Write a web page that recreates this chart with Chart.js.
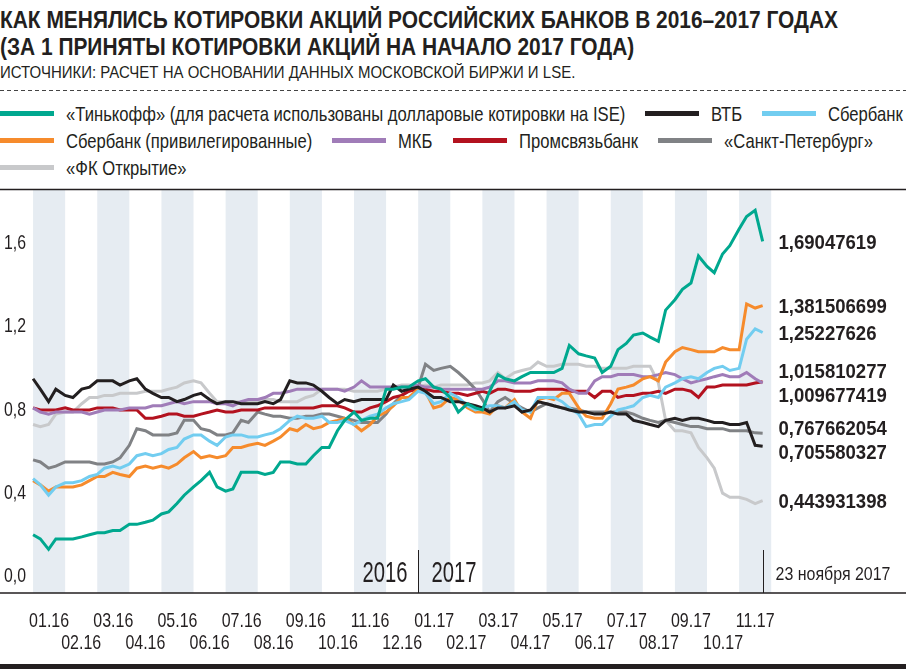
<!DOCTYPE html>
<html lang="ru">
<head>
<meta charset="utf-8">
<title>Котировки акций российских банков 2016–2017</title>
<script src="https://cdn.jsdelivr.net/npm/chart.js@4/dist/chart.umd.min.js"></script>
<style>
  body { margin: 0; background: #fff; }
  #page {
    position: relative; width: 906px; height: 669px; overflow: hidden;
    font-family: 'Liberation Sans', Arial, sans-serif;
    color: #231f20;
  }
  .t { display: inline-block; white-space: nowrap; transform-origin: 0 50%; }
  #title { position: absolute; left: 0; top: 6px; font-size: 24px; line-height: 27px; font-weight: bold; }
  #title div { height: 27px; }
  #sub { position: absolute; left: 0; top: 63px; font-size: 17px; line-height: 20px; }
  .dash {
    position: absolute; left: 0; top: 90px; width: 906px; height: 1px;
    background: repeating-linear-gradient(to right, #444 0 4px, transparent 4px 7px);
  }
  #legend { position: absolute; left: 0; top: 100px; width: 906px; }
  .row { display: flex; height: 27px; align-items: center; white-space: nowrap; }
  .item { display: flex; align-items: center; margin-right: 20px; font-size: 21px; line-height: 27px; }
  .sw { width: 54px; height: 5px; margin-right: 12px; flex: none; }
  #chartBox { position: absolute; left: 0; top: 185px; width: 906px; height: 475px; }
  .bar { position: absolute; left: 0; top: 664px; width: 906px; height: 5px; background: #231f20; }
</style>
</head>
<body>
<div id="page">
  <div id="title">
    <div><span class="t">КАК МЕНЯЛИСЬ КОТИРОВКИ АКЦИЙ РОССИЙСКИХ БАНКОВ В 2016–2017 ГОДАХ</span></div>
    <div><span class="t">(ЗА 1 ПРИНЯТЫ КОТИРОВКИ АКЦИЙ НА НАЧАЛО 2017 ГОДА)</span></div>
  </div>
  <div id="sub"><span class="t">ИСТОЧНИКИ: РАСЧЕТ НА ОСНОВАНИИ ДАННЫХ МОСКОВСКОЙ БИРЖИ И LSE.</span></div>
  <div class="dash"></div>
  <div id="legend"></div>
  <div id="chartBox"><canvas id="chart"></canvas></div>
  <div class="bar"></div>
</div>
<script>
// месяцы (подписи оси X) и дни месяца, на которые сняты значения
const monthLabels = ['01.16', '02.16', '03.16', '04.16', '05.16', '06.16', '07.16', '08.16', '09.16', '10.16', '11.16', '12.16',
  '01.17', '02.17', '03.17', '04.17', '05.17', '06.17', '07.17', '08.17', '09.17', '10.17', '11.17'];
const sampleDays = [1, 8, 16, 23];
const yTicks = [0, 0.4, 0.8, 1.2, 1.6];
const yearLabels = ['2016', '2017'];
const monthsGen = ['января', 'февраля', 'марта', 'апреля', 'мая', 'июня', 'июля', 'августа', 'сентября', 'октября', 'ноября', 'декабря'];

const tinkoff = [
  0.28, 0.26, 0.21, 0.26,  0.26, 0.26, 0.27, 0.28,  0.29, 0.29, 0.30, 0.30,  0.33, 0.33, 0.34, 0.35,
  0.38, 0.39, 0.43, 0.47,  0.51, 0.54, 0.58, 0.51,  0.49, 0.50, 0.58, 0.58,  0.58, 0.57, 0.58, 0.63,
  0.63, 0.62, 0.62, 0.66,  0.70, 0.70, 0.78, 0.83,  0.87, 0.83, 0.84, 0.84,  0.98, 0.98, 0.99, 0.99,
  1.02, 1.03, 0.99, 0.98,  0.94, 0.87, 0.91, 0.89,  0.88, 0.97, 1.05, 1.03,  1.02, 1.04, 1.06, 1.06,
  1.06, 1.06, 1.08, 1.19,  1.15, 1.14, 1.13, 1.06,  1.09, 1.17, 1.20, 1.24,  1.25, 1.23, 1.21, 1.36,
  1.41, 1.46, 1.49, 1.62,  1.57, 1.54, 1.63, 1.67,  1.75, 1.81, 1.84, 1.69047619];
const vtb = [
  1.03, 0.98, 0.92, 0.98,  0.95, 0.94, 0.98, 0.99,  1.02, 1.02, 1.02, 1.00,  1.02, 1.03, 0.98, 0.96,
  0.94, 0.94, 0.92, 0.93,  0.95, 0.96, 0.93, 0.91,  0.92, 0.92, 0.91, 0.91,  0.91, 0.92, 0.91, 0.93,
  1.02, 1.01, 1.01, 1.00,  0.97, 0.94, 0.91, 0.93,  0.92, 0.93, 0.93, 0.93,  0.93, 1.00, 0.97, 0.98,
  0.99, 0.97, 0.94, 0.94,  0.92, 0.92, 0.91, 0.90,  0.89, 0.87, 0.89, 0.89,  0.90, 0.87, 0.88, 0.92,
  0.91, 0.90, 0.89, 0.88,  0.87, 0.87, 0.86, 0.86,  0.87, 0.86, 0.86, 0.83,  0.82, 0.81, 0.80, 0.83,
  0.84, 0.83, 0.84, 0.84,  0.83, 0.82, 0.82, 0.81,  0.81, 0.82, 0.71, 0.705580327];
const sber = [
  0.55, 0.52, 0.47, 0.51,  0.53, 0.53, 0.54, 0.56,  0.57, 0.60, 0.61, 0.60,  0.62, 0.66, 0.67, 0.66,
  0.67, 0.69, 0.70, 0.74,  0.76, 0.76, 0.73, 0.71,  0.75, 0.76, 0.76, 0.75,  0.75, 0.76, 0.77, 0.79,
  0.83, 0.85, 0.84, 0.84,  0.85, 0.82, 0.82, 0.83,  0.81, 0.83, 0.85, 0.86,  0.89, 0.91, 0.92, 0.93,
  0.97, 0.96, 0.91, 0.92,  0.96, 0.94, 0.90, 0.88,  0.89, 0.90, 0.90, 0.89,  0.92, 0.88, 0.87, 0.94,
  0.94, 0.94, 0.92, 0.89,  0.86, 0.80, 0.81, 0.81,  0.85, 0.88, 0.89, 0.90,  0.94, 0.95, 0.94, 0.99,
  1.01, 1.03, 1.04, 1.03,  1.06, 1.08, 1.09, 1.07,  1.08, 1.22, 1.27, 1.25227626];
const sberPref = [
  0.54, 0.52, 0.49, 0.51,  0.51, 0.51, 0.52, 0.54,  0.56, 0.56, 0.58, 0.57,  0.56, 0.60, 0.61, 0.60,
  0.61, 0.60, 0.62, 0.65,  0.68, 0.65, 0.66, 0.65,  0.66, 0.70, 0.70, 0.71,  0.72, 0.71, 0.73, 0.75,
  0.79, 0.78, 0.81, 0.79,  0.80, 0.82, 0.83, 0.84,  0.81, 0.78, 0.81, 0.85,  0.87, 0.90, 0.94, 0.94,
  0.98, 0.97, 0.89, 0.90,  0.94, 0.93, 0.89, 0.87,  0.87, 0.86, 0.90, 0.89,  0.93, 0.87, 0.84, 0.93,
  0.94, 0.93, 0.96, 0.96,  0.89, 0.85, 0.84, 0.84,  0.91, 0.98, 0.99, 1.00,  1.03, 1.04, 1.02, 1.11,
  1.16, 1.18, 1.17, 1.16,  1.16, 1.16, 1.18, 1.17,  1.17, 1.39, 1.37, 1.381506699];
const mkb = [
  0.89, 0.87, 0.86, 0.87,  0.87, 0.87, 0.87, 0.86,  0.87, 0.88, 0.88, 0.88,  0.89, 0.89, 0.89, 0.90,
  0.90, 0.91, 0.92, 0.91,  0.92, 0.92, 0.92, 0.91,  0.91, 0.90, 0.92, 0.93,  0.93, 0.94, 0.96, 0.96,
  0.97, 0.98, 0.98, 0.98,  0.98, 0.98, 0.98, 0.97,  0.99, 1.02, 0.99, 0.99,  0.99, 0.99, 0.99, 0.99,
  1.00, 0.99, 0.99, 0.98,  0.98, 0.98, 0.98, 0.98,  0.98, 0.99, 1.02, 1.02,  1.01, 1.01, 1.01, 1.02,
  1.02, 1.02, 1.01, 0.98,  0.96, 0.96, 1.02, 1.04,  1.04, 1.05, 1.05, 1.05,  1.04, 1.04, 1.05, 1.06,
  1.05, 1.03, 1.01, 1.02,  1.03, 1.04, 1.05, 1.04,  1.04, 1.06, 1.03, 1.009677419];
const psb = [
  0.89, 0.88, 0.88, 0.88,  0.89, 0.88, 0.88, 0.88,  0.89, 0.89, 0.89, 0.88,  0.88, 0.88, 0.84, 0.84,
  0.85, 0.86, 0.86, 0.85,  0.85, 0.86, 0.87, 0.88,  0.87, 0.87, 0.88, 0.88,  0.88, 0.89, 0.89, 0.89,
  0.89, 0.89, 0.89, 0.89,  0.90, 0.90, 0.90, 0.89,  0.87, 0.87, 0.89, 0.90,  0.92, 0.94, 0.95, 0.97,
  0.98, 0.98, 0.97, 0.97,  0.96, 0.96, 0.95, 0.96,  0.97, 0.96, 0.98, 0.98,  0.97, 0.97, 0.97, 0.98,
  0.98, 0.98, 0.98, 0.97,  0.97, 0.97, 0.94, 0.97,  0.97, 0.94, 0.95, 0.95,  0.96, 0.96, 0.97, 0.96,
  0.98, 0.98, 0.97, 0.94,  0.99, 0.99, 1.00, 1.00,  1.00, 1.00, 1.01, 1.015810277];
const spb = [
  0.64, 0.63, 0.60, 0.61,  0.63, 0.63, 0.63, 0.63,  0.62, 0.62, 0.63, 0.65,  0.71, 0.79, 0.78, 0.76,
  0.76, 0.76, 0.77, 0.83,  0.83, 0.79, 0.78, 0.76,  0.76, 0.77, 0.83, 0.82,  0.87, 0.86, 0.85, 0.85,
  0.84, 0.84, 0.85, 0.85,  0.86, 0.86, 0.85, 0.84,  0.83, 0.82, 0.82, 0.82,  0.86, 0.91, 0.95, 0.97,
  0.99, 1.10, 1.07, 1.08,  1.09, 1.06, 1.02, 0.98,  0.93, 0.87, 0.92, 0.94,  0.91, 0.89, 0.87, 0.89,
  0.91, 0.90, 0.89, 0.89,  0.88, 0.87, 0.87, 0.87,  0.87, 0.87, 0.87, 0.86,  0.84, 0.83, 0.82, 0.83,
  0.82, 0.81, 0.80, 0.80,  0.79, 0.79, 0.79, 0.78,  0.78, 0.78, 0.77, 0.767662054];
const fk = [
  0.81, 0.80, 0.81, 0.86,  0.87, 0.87, 0.91, 0.94,  0.94, 0.95, 0.95, 0.96,  0.96, 0.96, 0.97, 0.97,
  0.97, 0.98, 0.99, 1.01,  1.02, 1.01, 0.96, 0.92,  0.92, 0.92, 0.92, 0.92,  0.92, 0.93, 0.93, 0.92,
  0.92, 0.92, 0.94, 0.95,  0.98, 0.98, 0.98, 0.98,  0.97, 0.97, 0.97, 0.97,  0.98, 0.99, 1.00, 1.00,
  0.99, 1.00, 0.99, 1.00,  1.00, 1.00, 1.00, 1.01,  1.01, 1.02, 1.06, 1.03,  1.06, 1.07, 1.08, 1.11,
  1.09, 1.09, 1.10, 1.10,  1.10, 1.09, 1.09, 1.08,  1.08, 1.08, 1.08, 1.09,  1.09, 1.09, 1.01, 0.83,
  0.78, 0.78, 0.77, 0.70,  0.65, 0.60, 0.48, 0.46,  0.46, 0.45, 0.43, 0.443931398];

const seriesNames = ['«Тинькофф» (для расчета использованы долларовые котировки на ISE)', 'ВТБ', 'Сбербанк',
  'Сбербанк (привилегированные)', 'МКБ', 'Промсвязьбанк', '«Санкт-Петербург»', '«ФК Открытие»'];
const seriesValues = [tinkoff, vtb, sber, sberPref, mkb, psb, spb, fk];
const seriesColors = ['#00a88f', '#231f20', '#72cdf0', '#f68b2c', '#a07cb8', '#b3121f', '#808285', '#c8c9cb'];
const legendBreaks = [3, 7];   // с какого элемента начинается новая строка легенды

const FONT = "'Liberation Sans', Arial, sans-serif";
const INK = '#231f20';

// позиция каждой точки в месяцах от 1 января 2016
const xVals = [];
monthLabels.forEach((lab, m) => {
  const [mm, yy] = lab.split('.').map(Number);
  const dim = new Date(2000 + yy, mm, 0).getDate();
  sampleDays.forEach(d => xVals.push(m + (d - 1) / dim));
});
const lastLab = monthLabels[monthLabels.length - 1].split('.').map(Number);
const endText = sampleDays[sampleDays.length - 1] + ' ' + monthsGen[lastLab[0] - 1] + ' ' + (2000 + lastLab[1]);

// узкое начертание: сжимаем обычный шрифт по горизонтали
function condense(els, k) {
  els.forEach(el => {
    const w = el.offsetWidth;
    el.style.transform = `scaleX(${k})`;
    el.style.marginRight = (-(1 - k) * w) + 'px';
  });
}

// легенда
const legend = document.getElementById('legend');
let row;
seriesNames.forEach((name, i) => {
  if (i === 0 || legendBreaks.includes(i)) {
    row = document.createElement('div');
    row.className = 'row';
    legend.appendChild(row);
  }
  const it = document.createElement('div');
  it.className = 'item';
  it.innerHTML = `<span class="sw" style="background:${seriesColors[i]}"></span><span class="t">${name}</span>`;
  row.appendChild(it);
});

const titleSpans = [...document.querySelectorAll('#title .t')];
const legendSpans = [...document.querySelectorAll('#legend .t')];
const subSpan = document.querySelector('#sub .t');
const kTitle = 838 / titleSpans[0].offsetWidth;
const kLegend = 559 / legendSpans[0].offsetWidth;
const kSub = 575 / subSpan.offsetWidth;
condense(titleSpans, kTitle);
condense(legendSpans, kLegend);
condense([subSpan], kSub);

// стили подписей на холсте: шрифт и образец с шириной в исходной верстке
const textStyles = {
  yTick: { font: '19.5px ' + FONT, sample: '0,0', width: 22 },
  xTick: { font: '21px ' + FONT, sample: '01.16', width: 40 },
  year: { font: '30px ' + FONT, sample: '2016', width: 45 },
  endDate: { font: '18px ' + FONT, sample: endText, width: 115 },
  value: { font: 'bold 21px ' + FONT, sample: '1,69047619', width: 98 }
};

function narrowText(ctx, style, text, x, y, align) {
  const st = textStyles[style];
  ctx.font = st.font;
  if (!st.k) st.k = st.width / ctx.measureText(st.sample).width;
  ctx.save();
  ctx.translate(x, y);
  ctx.scale(st.k, 1);
  ctx.textAlign = align;
  ctx.textBaseline = 'alphabetic';
  ctx.fillText(text, 0, 0);
  ctx.restore();
}

// полосы по нечетным месяцам
const bands = {
  id: 'bands',
  beforeDatasetsDraw(chart) {
    const { ctx, chartArea: a, scales: { x } } = chart;
    ctx.save();
    ctx.fillStyle = '#e6ecf2';
    for (let m = 0; m < monthLabels.length; m += 2) {
      const x1 = x.getPixelForValue(m), x2 = x.getPixelForValue(m + 1);
      ctx.fillRect(x1, a.top, x2 - x1, a.bottom - a.top);
    }
    ctx.restore();
  }
};

// рамка, оси, разделитель годов, дата и подписи последних значений
const frame = {
  id: 'frame',
  afterDraw(chart) {
    const { ctx, chartArea: a, scales: { x, y } } = chart;
    ctx.save();
    ctx.strokeStyle = INK;
    ctx.fillStyle = INK;
    ctx.lineWidth = 1.5;
    ctx.beginPath();
    ctx.moveTo(0, a.top - 0.5); ctx.lineTo(chart.width, a.top - 0.5);
    ctx.moveTo(0, a.bottom); ctx.lineTo(chart.width, a.bottom);
    ctx.stroke();

    // подписи осей
    y.ticks.forEach(t => {
      narrowText(ctx, 'yTick', t.value.toFixed(1).replace('.', ','), 4, y.getPixelForValue(t.value) - 11, 'left');
    });
    x.ticks.forEach((t, i) => {
      const px = x.getPixelForValue(t.value);
      narrowText(ctx, 'xTick', monthLabels[i], px, a.bottom + (i % 2 ? 56 : 33.5), 'center');
    });

    const xDiv = Math.round(x.getPixelForValue(12)) + 0.5;
    const xEnd = Math.round(x.getPixelForValue(xVals[xVals.length - 1])) + 0.5;
    ctx.lineWidth = 1;
    ctx.beginPath();
    ctx.moveTo(xDiv, a.bottom - 43); ctx.lineTo(xDiv, a.bottom);
    ctx.moveTo(xEnd, a.bottom - 43); ctx.lineTo(xEnd, a.bottom);
    ctx.stroke();

    narrowText(ctx, 'year', yearLabels[0], xDiv - 11, a.bottom - 11.5, 'right');
    narrowText(ctx, 'year', yearLabels[1], xDiv + 13, a.bottom - 11.5, 'left');
    narrowText(ctx, 'endDate', endText, xEnd + 12, a.bottom - 13, 'left');

    // подписи последних значений, раздвинутые чтобы не налезали
    const items = seriesValues.map(v => {
      const last = v[v.length - 1];
      return { text: String(last).replace('.', ','), y: y.getPixelForValue(last) };
    }).sort((p, q) => p.y - q.y);
    const gap = 24;
    for (let pass = 0; pass < 30; pass++) {
      let moved = false;
      for (let i = 1; i < items.length; i++) {
        const d = items[i].y - items[i - 1].y;
        if (d < gap) {
          const s = (gap - d) / 2;
          items[i - 1].y -= s; items[i].y += s; moved = true;
        }
      }
      if (!moved) break;
    }
    items.forEach(it => narrowText(ctx, 'value', it.text, xEnd + 15, it.y + 7.5, 'left'));
    ctx.restore();
  }
};

const ctx = document.getElementById('chart').getContext('2d');
const chart = new Chart(ctx, {
  type: 'line',
  data: {
    datasets: seriesValues.map((vals, i) => ({
      label: seriesNames[i],
      data: vals.map((v, k) => ({ x: xVals[k], y: v })),
      borderColor: seriesColors[i],
      borderWidth: 3,
      pointRadius: 0,
      tension: 0,
      fill: false
    }))
  },
  options: {
    responsive: true,
    maintainAspectRatio: false,
    animation: false,
    layout: { padding: { top: 5, left: 0, right: 0, bottom: 0 } },
    plugins: { legend: { display: false }, tooltip: { enabled: false } },
    scales: {
      x: {
        type: 'linear',
        min: -1.03,
        max: 27.2,
        grid: { display: false, drawTicks: false },
        border: { display: false },
        ticks: { display: false },
        afterBuildTicks: s => { s.ticks = monthLabels.map((l, i) => ({ value: i + 0.5 })); },
        afterFit: s => { s.height = 67; s.paddingLeft = 0; s.paddingRight = 0; }
      },
      y: {
        min: 0,
        max: 1.9375,
        grid: { display: false, drawTicks: false },
        border: { display: false },
        ticks: { display: false },
        afterBuildTicks: s => { s.ticks = yTicks.map(v => ({ value: v })); },
        afterFit: s => { s.width = 0; s.paddingTop = 0; s.paddingBottom = 0; }
      }
    }
  },
  plugins: [bands, frame]
});
</script>
</body>
</html>
